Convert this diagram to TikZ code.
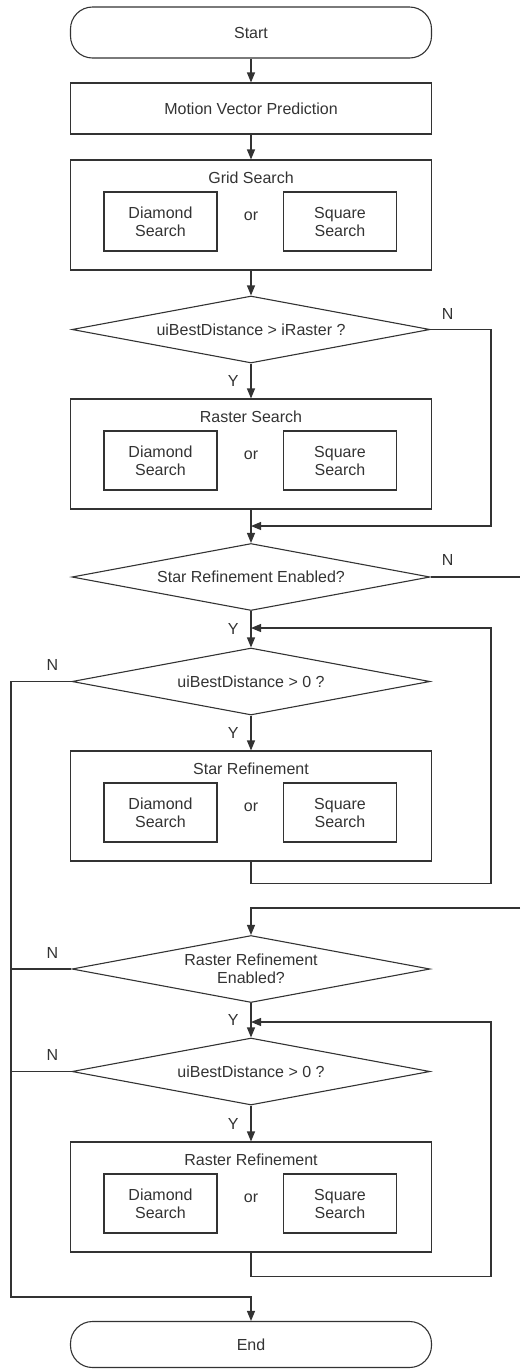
\documentclass[tikz,border=0pt]{standalone}
\usepackage{fontspec}
\setmainfont{Liberation Sans}
\usetikzlibrary{shapes.geometric,arrows.meta}
\definecolor{ink}{gray}{0.2}

\tikzset{
  box/.style={draw=ink, line width=1.1pt, rectangle, minimum width=361pt, minimum height=51pt, inner sep=0pt},
  terminal/.style={box, rounded corners=22pt},
  block/.style={box, minimum height=110pt},
  subbox/.style={draw=ink, line width=1.1pt, minimum width=113pt, minimum height=59pt, inner sep=0pt, align=center},
  decision/.style={draw=ink, line width=1.1pt, diamond, aspect=5, minimum width=358pt, minimum height=67pt, inner sep=0pt, align=center},
  flow/.style={draw=ink, line width=1.1pt},
  yes/.style={left=12pt, inner sep=0pt}
}

\begin{document}
\begin{tikzpicture}[x=1pt, y=-1pt, >={Triangle[length=10pt,width=8pt]},
    font=\fontsize{16}{18}\selectfont, text=ink]
    \useasboundingbox (0,0) rectangle (520,1369);

    % Start and motion vector prediction
    \node[terminal] (start) at (251,32.5) {Start};
    \node[box] (mvp) at (251,108.5) {Motion Vector Prediction};

    % Grid search block
    \node[block] (grid) at (251,215) {};
    \node (grid-t) at (251,178) {Grid Search};
    \node[subbox] (grid-d) at (160.5,221.5) {Diamond\\Search};
    \node (grid-o) at (251,216) {or};
    \node[subbox] (grid-s) at (340,221.5) {Square\\Search};

    \node[decision] (d1) at (251,329.5) {uiBestDistance > iRaster ?};

    % Raster search block
    \node[block] (rast) at (251,454) {};
    \node (rast-t) at (251,417) {Raster Search};
    \node[subbox] (rast-d) at (160.5,460.5) {Diamond\\Search};
    \node (rast-o) at (251,455) {or};
    \node[subbox] (rast-s) at (340,460.5) {Square\\Search};

    \node[decision] (d2) at (251,577) {Star Refinement Enabled?};
    \node[decision] (d3) at (251,681.5) {uiBestDistance > 0 ?};

    % Star refinement block
    \node[block] (star) at (251,806) {};
    \node (star-t) at (251,769) {Star Refinement};
    \node[subbox] (star-d) at (160.5,812.5) {Diamond\\Search};
    \node (star-o) at (251,807) {or};
    \node[subbox] (star-s) at (340,812.5) {Square\\Search};

    \node[decision] (d4) at (251,969) {Raster Refinement\\Enabled?};
    \node[decision] (d5) at (251,1071.5) {uiBestDistance > 0 ?};

    % Raster refinement block
    \node[block] (rref) at (251,1197) {};
    \node (rref-t) at (251,1160) {Raster Refinement};
    \node[subbox] (rref-d) at (160.5,1203.5) {Diamond\\Search};
    \node (rref-o) at (251,1198) {or};
    \node[subbox] (rref-s) at (340,1203.5) {Square\\Search};

    \node[terminal, minimum height=46pt] (end) at (251,1344.5) {End};

    % junctions and return lanes
    \coordinate (j1) at (251,526);
    \coordinate (j2) at (251,628);
    \coordinate (j4) at (251,1022);
    \coordinate (rgt) at (491,0);
    \coordinate (lft) at (11,1297);
    \coordinate (cutout) at (520,577);
    \coordinate (cutin) at (520,908);

    % N labels
    \node (n1) at ([shift={(17,-16)}]d1.east) {N};
    \node (n2) at ([shift={(17,-17)}]d2.east) {N};
    \node (n3) at ([shift={(-19,-16.5)}]d3.west) {N};
    \node (n4) at ([shift={(-19,-16)}]d4.west) {N};
    \node (n5) at ([shift={(-19,-16.5)}]d5.west) {N};

    % main flow
    \draw[flow,->] (start) -- (mvp);
    \draw[flow,->] (mvp) -- (grid);
    \draw[flow,->] (grid) -- (d1);
    \draw[flow,->] (d1) -- node[yes] {Y} (rast);
    \draw[flow,->] (rast) -- (d2);
    \draw[flow,->] (d2) -- node[yes] {Y} (d3);
    \draw[flow,->] (d3) -- node[yes] {Y} (star);
    \draw[flow,->] (d4) -- node[yes] {Y} (d5);
    \draw[flow,->] (d5) -- node[yes] {Y} (rref);

    % skips and loops
    \draw[flow,->] (d1.east) -- (d1.east -| rgt) |- (j1);
    \draw[flow] (d2.east) -- (cutout);
    \draw[flow,->] (star.south) -- ++(0,22) -| (rgt |- j2) -- (j2);
    \draw[flow,->] (cutin) -| (d4.north);
    \draw[flow,->] (rref.south) -- ++(0,24) -| (rgt |- j4) -- (j4);
    \draw[flow,->] (d3.west) -| (lft) -| (end.north);
    \draw[flow] (d4.west) -- (d4.west -| lft);
    \draw[flow] (d5.west) -- (d5.west -| lft);
\end{tikzpicture}
\end{document}
